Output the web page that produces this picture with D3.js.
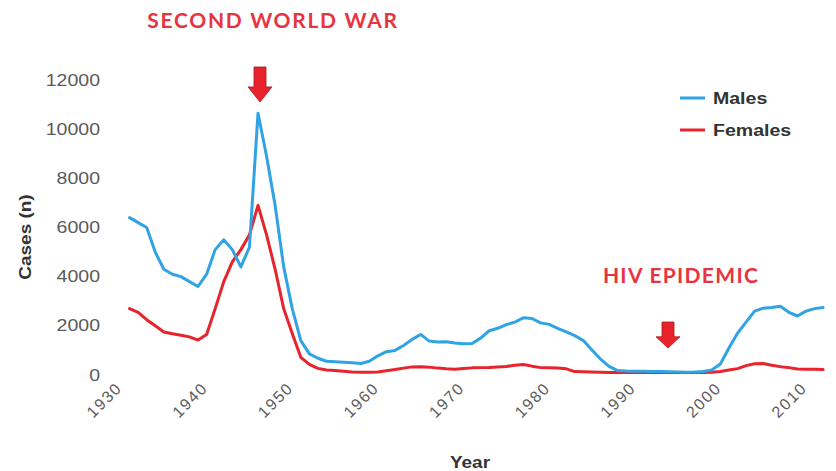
<!DOCTYPE html>
<html><head><meta charset="utf-8">
<script src="https://cdn.jsdelivr.net/npm/d3@7"></script>
<style>body{margin:0;background:#fff}svg{display:block}</style>
</head><body>
<svg id="c" width="836" height="471"></svg>
<script>
const years = d3.range(1931, 2013);
const males = [6400,6200,6000,5000,4300,4100,4000,3800,3600,4100,
 5100,5500,5100,4400,5200,10650,8900,6900,4400,2700,
 1400,860,680,560,540,520,500,470,560,780,
 950,1000,1200,1450,1650,1380,1340,1350,1300,1270,
 1280,1500,1800,1900,2050,2150,2330,2300,2120,2060,
 1900,1750,1600,1400,1020,650,350,180,160,150,
 150,140,140,130,120,110,120,140,200,450,
 1100,1700,2150,2600,2720,2750,2800,2550,2400,2600,
 2700,2750];
const females = [2700,2550,2250,2000,1750,1680,1620,1550,1420,1650,
 2700,3800,4600,5100,5700,6900,5700,4300,2700,1690,
 720,430,270,200,180,150,120,110,110,120,
 170,220,280,330,340,320,280,250,230,260,
 290,300,310,330,350,400,430,360,300,290,
 280,250,140,130,120,110,100,100,100,100,
 100,100,100,100,100,100,100,100,110,140,
 200,260,380,460,470,400,340,300,240,230,
 230,220];
const yTicks = [0,2000,4000,6000,8000,10000,12000];
const xTicks = [1930,1940,1950,1960,1970,1980,1990,2000,2010];
const seriesNames = ["Males","Females"];
const colors = ["#2fa3e3","#e8232c"];

const svg = d3.select("#c");
const x = d3.scaleLinear().domain([1930,2010]).range([121,806]);
const y = d3.scaleLinear().domain([0,12000]).range([375,80]);

// y tick labels
svg.append("g").selectAll("text").data(yTicks).join("text")
  .attr("transform", d => `translate(100,${y(d)+5.5}) scale(1.22,1)`)
  .attr("text-anchor","end")
  .attr("font-family","Liberation Sans, Arial, sans-serif")
  .attr("font-size",16).attr("fill","#5a5a5a")
  .text(d => d);

// x tick labels
svg.append("g").selectAll("text").data(xTicks).join("text")
  .attr("transform", d => `translate(${x(d)+2},${389}) rotate(-45)`)
  .attr("text-anchor","end")
  .attr("font-family","Liberation Sans, Arial, sans-serif")
  .attr("font-size",16).attr("letter-spacing",1.6).attr("fill","#5a5a5a")
  .text(d => d);

// axis titles
svg.append("text").attr("transform","translate(31,237) rotate(-90) scale(1.15,1)")
  .attr("text-anchor","middle").attr("font-family","Liberation Sans, Arial, sans-serif")
  .attr("font-size",16.5).attr("font-weight","bold").attr("fill","#333").text("Cases (n)");
svg.append("text").attr("transform","translate(470,468) scale(1.15,1)")
  .attr("text-anchor","middle").attr("font-family","Liberation Sans, Arial, sans-serif")
  .attr("font-size",16.5).attr("font-weight","bold").attr("fill","#333").text("Year");

// lines
const line = d3.line().x((d,i)=>x(years[i])).y(d=>y(d));
[females, males].forEach((s, k) => {
  const idx = k===0 ? 1 : 0;
  svg.append("path").attr("d", line(s)).attr("fill","none")
    .attr("stroke", colors[idx]).attr("stroke-width",3)
    .attr("stroke-linejoin","round").attr("stroke-linecap","round");
});

// legend
seriesNames.forEach((n,i) => {
  const ly = 98 + i*32;
  svg.append("line").attr("x1",680).attr("x2",705).attr("y1",ly).attr("y2",ly)
    .attr("stroke",colors[i]).attr("stroke-width",3);
  svg.append("text").attr("transform",`translate(713,${ly+6}) scale(1.15,1)`)
    .attr("font-family","Liberation Sans, Arial, sans-serif").attr("font-size",17)
    .attr("font-weight","bold").attr("fill","#333").text(n);
});

// annotations
function arrow(cx, top, bottom){
  const headTop = top + (bottom-top)*0.57;
  const p = `M${cx-6},${top} L${cx+6},${top} L${cx+6},${headTop} L${cx+12},${headTop} L${cx},${bottom} L${cx-12},${headTop} L${cx-6},${headTop} Z`;
  svg.append("path").attr("d",p).attr("fill","#e8232c").attr("stroke","#a51a1a").attr("stroke-width",0.8);
}
svg.append("text").attr("x",273).attr("y",28).attr("text-anchor","middle")
  .attr("font-family","Lato, Open Sans, sans-serif").attr("font-weight","bold")
  .attr("font-size",21).attr("letter-spacing",1.7).attr("fill","#e8343f").text("SECOND WORLD WAR");
arrow(x(1946)+2, 67, 102);
svg.append("text").attr("x",681).attr("y",283).attr("text-anchor","middle")
  .attr("font-family","Lato, Open Sans, sans-serif").attr("font-weight","bold")
  .attr("font-size",21).attr("letter-spacing",1.3).attr("fill","#e8343f").text("HIV EPIDEMIC");
arrow(668, 322, 348);
</script>
</body></html>
